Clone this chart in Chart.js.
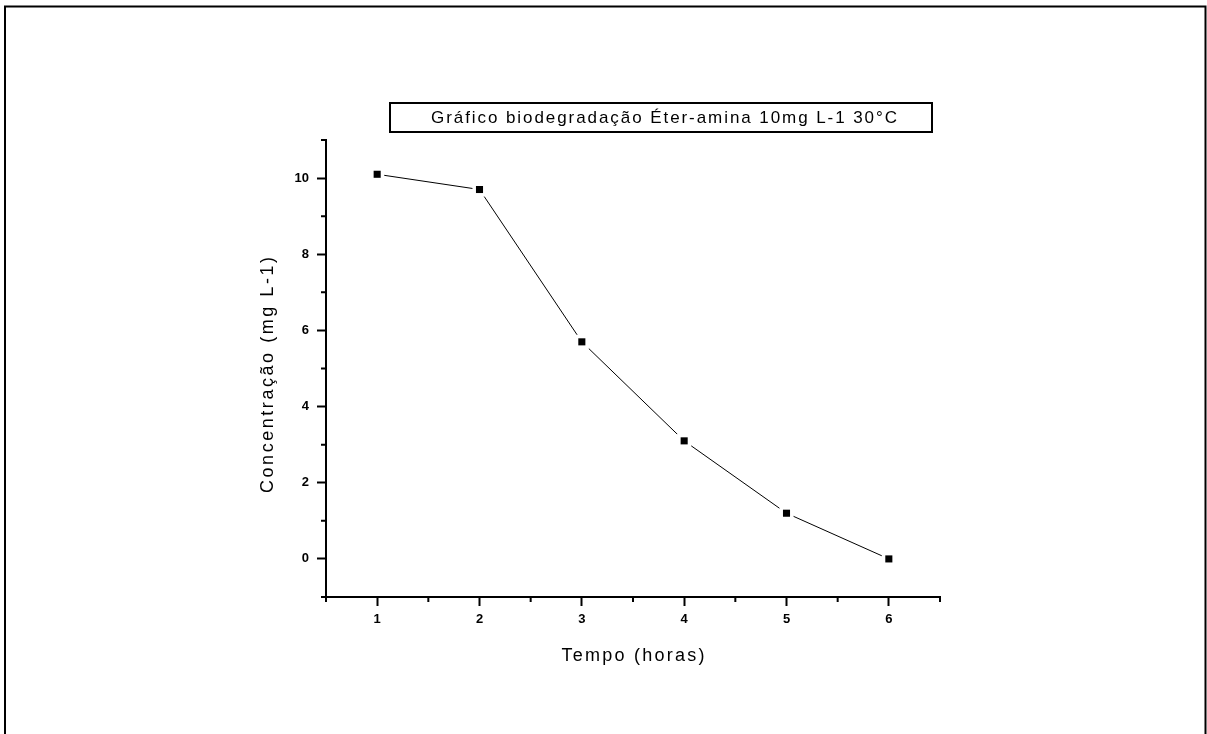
<!DOCTYPE html>
<html>
<head>
<meta charset="utf-8">
<script src="https://cdn.jsdelivr.net/npm/chart.js@4.4.0/dist/chart.umd.min.js"></script>
<style>
  html, body { margin: 0; padding: 0; background: #fff; }
  canvas { display: block; }
</style>
</head>
<body>
<canvas id="myChart" width="1207" height="734"></canvas>
<script>
// data
const tempo = [1, 2, 3, 4, 5, 6];
const concentracao = [10.1, 9.7, 5.7, 3.1, 1.2, 0];
const xTicks = [1, 2, 3, 4, 5, 6];
const xMinorTicks = [0.5, 1.5, 2.5, 3.5, 4.5, 5.5, 6.5];
const yTicks = [0, 2, 4, 6, 8, 10];
const yMinorTicks = [-1, 1, 3, 5, 7, 9, 11];
const titleText = "Gráfico biodegradação Éter-amina 10mg L-1 30°C";
const xTitle = "Tempo (horas)";
const yTitle = "Concentração (mg L-1)";

const points = tempo.map((t, i) => ({ x: t, y: concentracao[i] }));

// draw text stretched to a given width with letter spacing
function spacedText(ctx, text, cx, cy, width) {
  ctx.letterSpacing = "0px";
  const w = ctx.measureText(text).width;
  const sp = (width - w) / (text.length - 1);
  ctx.letterSpacing = sp + "px";
  ctx.textAlign = "center";
  ctx.textBaseline = "middle";
  ctx.fillText(text, cx + sp / 2, cy);
  ctx.letterSpacing = "0px";
}

const decorPlugin = {
  id: "decor",
  afterDraw(chart) {
    const ctx = chart.ctx;
    const area = chart.chartArea;
    const x = chart.scales.x;
    const y = chart.scales.y;
    ctx.save();
    ctx.strokeStyle = "#000";
    ctx.fillStyle = "#000";

    // outer frame (bottom edge is off the page)
    ctx.lineWidth = 2;
    ctx.beginPath();
    ctx.moveTo(5, 740);
    ctx.lineTo(5, 6.5);
    ctx.lineTo(1205.5, 6.5);
    ctx.lineTo(1205.5, 740);
    ctx.stroke();

    // minor ticks
    ctx.lineWidth = 2;
    ctx.beginPath();
    xMinorTicks.forEach(function (v) {
      const px = x.getPixelForValue(v);
      ctx.moveTo(px, area.bottom);
      ctx.lineTo(px, area.bottom + 5);
    });
    yMinorTicks.forEach(function (v) {
      const py = y.getPixelForValue(v);
      ctx.moveTo(area.left - 5, py);
      ctx.lineTo(area.left, py);
    });
    ctx.stroke();

    // title box
    ctx.lineWidth = 2;
    ctx.strokeRect(390, 103, 542, 29);
    ctx.font = "17px 'Liberation Sans', Arial, sans-serif";
    spacedText(ctx, titleText, 664, 118, 466);

    // axis titles
    ctx.font = "18px 'Liberation Sans', Arial, sans-serif";
    spacedText(ctx, xTitle, 633, 656, 143);
    ctx.save();
    ctx.translate(268, 375);
    ctx.rotate(-Math.PI / 2);
    spacedText(ctx, yTitle, 0, 0, 236);
    ctx.restore();

    ctx.restore();
  },
};

const tickFont = { family: "'Liberation Sans', Arial, sans-serif", size: 13, weight: "bold" };

const config = {
  type: "scatter",
  data: {
    datasets: [
      {
        data: points,
        showLine: true,
        borderColor: "#000",
        borderWidth: 1,
        pointRadius: 0,
        order: 3,
      },
      {
        // white halo so the line stops short of each marker
        data: points,
        showLine: false,
        pointStyle: "rect",
        pointRadius: 10,
        backgroundColor: "#fff",
        borderWidth: 0,
        order: 2,
      },
      {
        data: points,
        showLine: false,
        pointStyle: "rect",
        pointRadius: 5,
        backgroundColor: "#000",
        borderWidth: 0,
        order: 1,
      },
    ],
  },
  options: {
    responsive: false,
    animation: false,
    events: [],
    layout: { padding: { left: 266, right: 267, top: 140, bottom: 77 } },
    plugins: { legend: { display: false }, tooltip: { enabled: false } },
    scales: {
      x: {
        type: "linear",
        min: 0.5,
        max: 6.5,
        afterBuildTicks: function (scale) {
          scale.ticks = xTicks.map((v) => ({ value: v }));
        },
        afterFit: function (scale) {
          scale.height = 60;
        },
        ticks: { color: "#000", font: tickFont, padding: 6, maxRotation: 0 },
        grid: { drawOnChartArea: false, tickLength: 9, tickWidth: 2, tickColor: "#000" },
        border: { display: true, color: "#000", width: 2 },
      },
      y: {
        type: "linear",
        min: -1,
        max: 11,
        afterBuildTicks: function (scale) {
          scale.ticks = yTicks.map((v) => ({ value: v }));
        },
        afterFit: function (scale) {
          scale.width = 60;
        },
        ticks: { color: "#000", font: tickFont, padding: 8 },
        grid: { drawOnChartArea: false, tickLength: 9, tickWidth: 2, tickColor: "#000" },
        border: { display: true, color: "#000", width: 2 },
      },
    },
  },
  plugins: [decorPlugin],
};

const myChart = new Chart(document.getElementById("myChart"), config);
</script>
</body>
</html>
